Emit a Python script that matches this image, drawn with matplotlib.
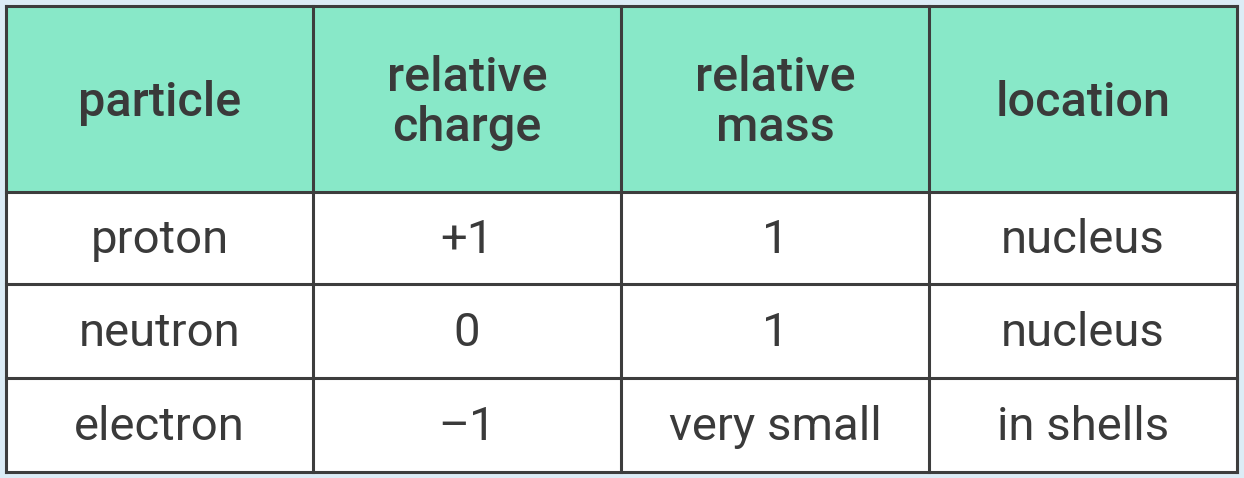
import matplotlib
matplotlib.use("Agg")
import matplotlib.pyplot as plt
from matplotlib.patches import Rectangle

headers = ["particle", "relative\ncharge", "relative\nmass", "location"]
particles = ["proton", "neutron", "electron"]
charges = ["+1", "0", "\u20131"]
masses = ["1", "1", "very small"]
locations = ["nucleus", "nucleus", "in shells"]
rows = [list(r) for r in zip(particles, charges, masses, locations)]

W, H = 1244, 478
fig = plt.figure(figsize=(W/100, H/100), dpi=100)
fig.patch.set_facecolor("#dcecf6")
ax = fig.add_axes([0, 0, 1, 1])
ax.set_xlim(0, W); ax.set_ylim(H, 0); ax.axis("off")

xs = [6, 313, 621, 929, 1237]
ys = [6, 192, 284, 378, 472]
border = "#3d3d3d"
ax.add_patch(Rectangle((xs[0], ys[0]), xs[-1]-xs[0], ys[1]-ys[0], facecolor="#88e8c8", edgecolor="none"))
ax.add_patch(Rectangle((xs[0], ys[1]), xs[-1]-xs[0], ys[-1]-ys[1], facecolor="white", edgecolor="none"))
for x in xs:
    ax.plot([x, x], [ys[0], ys[-1]], color=border, lw=2.2, solid_capstyle="projecting")
for y in ys:
    ax.plot([xs[0], xs[-1]], [y, y], color=border, lw=2.2, solid_capstyle="projecting")

fam = ["Roboto", "DejaVu Sans"]
for j, h in enumerate(headers):
    ax.text((xs[j]+xs[j+1])/2, (ys[0]+ys[1])/2 + 4, h, ha="center", va="center",
            fontsize=35, fontweight=500, color="#3a3a3a", family=fam, linespacing=1.1)
for i, r in enumerate(rows):
    for j, v in enumerate(r):
        ax.text((xs[j]+xs[j+1])/2, (ys[i+1]+ys[i+2])/2 + 2, v, ha="center", va="center",
                fontsize=34, color="#3a3a3a", family=fam)
fig.savefig("out.png", dpi=100, facecolor=fig.get_facecolor())
